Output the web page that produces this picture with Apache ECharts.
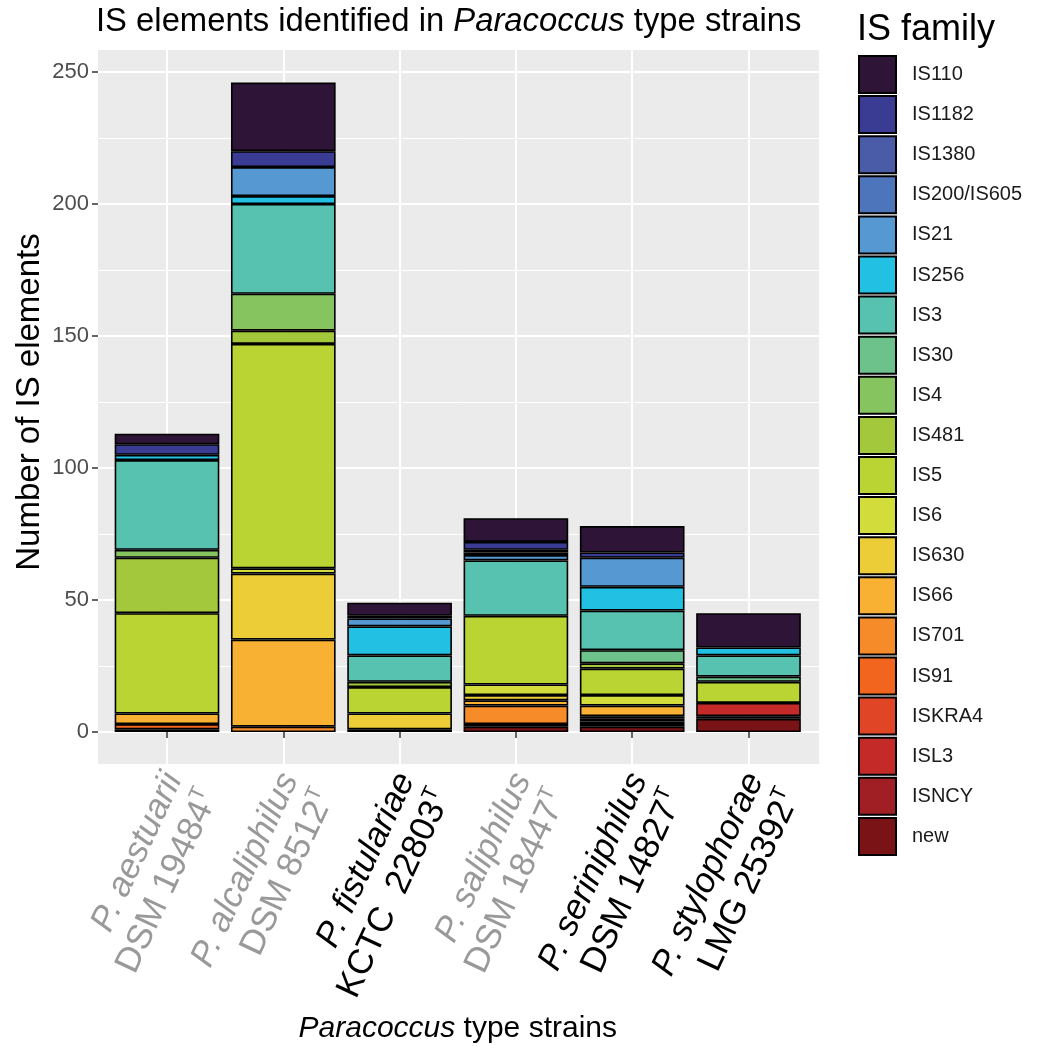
<!DOCTYPE html>
<html><head><meta charset="utf-8">
<script src="https://cdn.jsdelivr.net/npm/echarts@6/dist/echarts.min.js"></script>
<style>html,body{margin:0;padding:0;background:#fff}#c{width:1041px;height:1046px}</style>
</head><body><div id="c"></div>
<script>
// ---- data ----
const species = ['P. aestuarii', 'P. alcaliphilus', 'P. fistulariae', 'P. saliphilus', 'P. seriniphilus', 'P. stylophorae'];
const strains = ['DSM 19484', 'DSM 8512', 'KCTC  22803', 'DSM 18447', 'DSM 14827', 'LMG 25392'];
const greyLabel = [true, true, false, true, false, false];
const yTicks = [0, 50, 100, 150, 200, 250];

const families = ['IS110', 'IS1182', 'IS1380', 'IS200/IS605', 'IS21', 'IS256', 'IS3', 'IS30', 'IS4', 'IS481',
  'IS5', 'IS6', 'IS630', 'IS66', 'IS701', 'IS91', 'ISKRA4', 'ISL3', 'ISNCY', 'new'];
const familyColors = ['#2e1437', '#3a3b93', '#4a5ba8', '#4d75bc', '#5598d2', '#22c0e3', '#58c2b0', '#6cc28a',
  '#86c45f', '#a4c83c', '#bad433', '#d2dd3c', '#eccd37', '#f8b133', '#f68b2a', '#f2651f', '#e04526', '#c42b28',
  '#a01f24', '#7a1315'];

const IS110 = [4, 26, 5, 9, 10, 13];
const IS1182 = [4, 6, 1, 3, 2, 0];
const IS1380 = [0, 0, 0, 1, 0, 0];
const IS200_IS605 = [0, 0, 0, 1, 0, 0];
const IS21 = [0, 11, 3, 2, 11, 0];
const IS256 = [2, 3, 11, 0, 9, 3];
const IS3 = [34, 34, 10, 21, 15, 8];
const IS30 = [0, 0, 0, 0, 5, 2];
const IS4 = [3, 14, 0, 0, 0, 0];
const IS481 = [21, 5, 2, 0, 2, 0];
const IS5 = [38, 85, 10, 26, 10, 8];
const IS6 = [0, 2, 0, 4, 4, 0];
const IS630 = [0, 25, 6, 2, 0, 0];
const IS66 = [4, 33, 0, 2, 4, 0];
const IS701 = [0, 2, 0, 7, 1, 0];
const IS91 = [2, 0, 0, 0, 1, 0];
const ISKRA4 = [0, 0, 0, 0, 1, 0];
const ISL3 = [0, 0, 0, 0, 1, 5];
const ISNCY = [0, 0, 0, 1, 0, 1];
const NEW = [1, 0, 1, 2, 2, 5];
const familyValues = [IS110, IS1182, IS1380, IS200_IS605, IS21, IS256, IS3, IS30, IS4, IS481,
  IS5, IS6, IS630, IS66, IS701, IS91, ISKRA4, ISL3, ISNCY, NEW];

// ---- layout ----
const FONT = '"Liberation Sans", Arial, Helvetica, sans-serif';
const c0 = 167, step = 116.3;          // category centre / spacing (px)
const panelL = 98, panelR = 819, panelT = 50, panelB = 764;
const dataT = 72, dataB = 732;

const categories = species.map((s, i) => s + ' ' + strains[i]);

const series = [];
for (let i = families.length - 1; i >= 0; i--) {
  series.push({
    name: families[i], type: 'bar', stack: 'total', xAxisIndex: 1, yAxisIndex: 1,
    barWidth: '90%',
    itemStyle: { color: familyColors[i], borderColor: '#000', borderWidth: 1.6 },
    emphasis: { disabled: true },
    data: familyValues[i].map(v => v === 0 ? null : v)
  });
}

const LF = 35, LH = 40;
const rich = {
  ig: { fontFamily: FONT, fontSize: LF, fontStyle: 'italic', color: '#999999', lineHeight: LH },
  ng: { fontFamily: FONT, fontSize: LF, color: '#999999', lineHeight: LH },
  sg: { fontFamily: FONT, fontSize: 21, color: '#999999', verticalAlign: 'top', lineHeight: LH },
  ib: { fontFamily: FONT, fontSize: LF, fontStyle: 'italic', color: '#000000', lineHeight: LH },
  nb: { fontFamily: FONT, fontSize: LF, color: '#000000', lineHeight: LH },
  sb: { fontFamily: FONT, fontSize: 21, color: '#000000', verticalAlign: 'top', lineHeight: LH }
};

const option = {
  animation: false,
  backgroundColor: '#ffffff',
  textStyle: { fontFamily: FONT },
  title: [
    {
      left: panelL - 2, top: 5, padding: 0,
      text: '{n|IS elements identified in }{i|Paracoccus}{n| type strains}',
      textStyle: { fontWeight: 'normal', rich: {
        n: { fontFamily: FONT, fontSize: 32.8, fontWeight: 'normal', color: '#000' },
        i: { fontFamily: FONT, fontSize: 32.8, fontWeight: 'normal', fontStyle: 'italic', color: '#000' }
      } }
    },
    {
      left: 857, top: 12, padding: 0, text: 'IS family',
      textStyle: { fontFamily: FONT, fontSize: 36, fontWeight: 'normal', color: '#000' }
    }
  ],
  legend: {
    orient: 'vertical', left: 858, top: 55, padding: 0,
    itemWidth: 37, itemHeight: 37, itemGap: 1.1, icon: 'rect',
    data: families,
    selectedMode: false,
    textStyle: { fontFamily: FONT, fontSize: 20, color: '#1a1a1a', padding: [0, 0, 0, 11] }
  },
  grid: [
    { left: panelL, width: panelR - panelL, top: panelT, height: panelB - panelT, show: true,
      backgroundColor: '#EBEBEB', borderWidth: 0, z: -1, outerBoundsMode: 'none' },
    { left: c0 - step / 2, width: step * 6, top: dataT, height: dataB - dataT, outerBoundsMode: 'none' },
    { left: panelL, width: panelR - panelL, top: dataT, height: dataB - dataT, outerBoundsMode: 'none' },
    { left: c0 - step, width: step * 7, top: panelT, height: panelB - panelT, outerBoundsMode: 'none' }
  ],
  xAxis: [
    { gridIndex: 0, type: 'value', show: false },
    {
      gridIndex: 1, type: 'category', data: categories, offset: panelB - dataB,
      axisLine: { show: false },
      axisTick: { show: true, alignWithLabel: true, length: 6, lineStyle: { color: '#333', width: 1.5 } },
      splitLine: { show: false },
      axisLabel: {
        interval: 0, rotate: 65, margin: 8, padding: [54, 0, 0, 0],
        formatter: function (v, idx) {
          const g = greyLabel[idx];
          return '{' + (g ? 'ig' : 'ib') + '|' + species[idx] + '}\n{' + (g ? 'ng' : 'nb') + '|' + strains[idx] + '}{' + (g ? 'sg' : 'sb') + '|T}';
        },
        rich: rich
      },
      name: '{i|Paracoccus}{n| type strains}', nameLocation: 'middle', nameGap: 250,
      nameMoveOverlap: false,
      nameTextStyle: { rich: {
        n: { fontFamily: FONT, fontSize: 30, color: '#000' },
        i: { fontFamily: FONT, fontSize: 30, fontStyle: 'italic', color: '#000' }
      } }
    },
    { gridIndex: 2, type: 'value', show: false },
    {
      gridIndex: 3, type: 'value', min: 0, max: 7, interval: 1,
      axisLine: { show: false }, axisTick: { show: false }, axisLabel: { show: false },
      splitLine: { show: true, showMinLine: false, showMaxLine: false, lineStyle: { color: '#ffffff', width: 2 } }
    }
  ],
  yAxis: [
    { gridIndex: 0, type: 'value', show: false },
    { gridIndex: 1, type: 'value', min: yTicks[0], max: yTicks[yTicks.length - 1], show: false },
    {
      gridIndex: 2, type: 'value', min: yTicks[0], max: yTicks[yTicks.length - 1], interval: yTicks[1] - yTicks[0],
      axisLine: { show: false },
      axisTick: { show: true, length: 6, lineStyle: { color: '#333', width: 1.5 } },
      axisLabel: { fontFamily: FONT, fontSize: 22, color: '#4d4d4d', margin: 9 },
      splitLine: { show: true, lineStyle: { color: '#ffffff', width: 2 } },
      minorTick: { show: false, splitNumber: 2 },
      minorSplitLine: { show: true, lineStyle: { color: '#ffffff', width: 1 } },
      name: 'Number of IS elements', nameLocation: 'middle', nameGap: 52, nameRotate: 90,
      nameMoveOverlap: false,
      nameTextStyle: { fontFamily: FONT, fontSize: 33, color: '#000' }
    },
    { gridIndex: 3, type: 'value', show: false }
  ],
  series: series
};

const chart = echarts.init(document.getElementById('c'), null, { renderer: 'canvas' });
chart.setOption(option);
</script>
</body></html>
